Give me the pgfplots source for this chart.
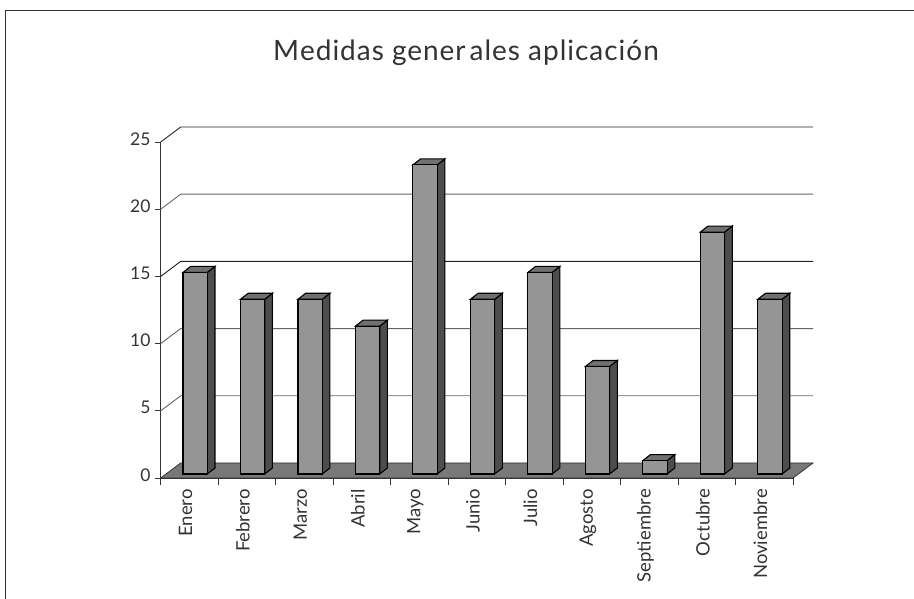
\documentclass[border=0pt]{standalone}
\usepackage{fontspec}
\setmainfont{Lato}
\newfontfamily\titlefont[LetterSpace=3.5]{Lato}
\usepackage{pgfplots}
\pgfplotsset{compat=1.18}
\definecolor{barfront}{HTML}{959595}
\definecolor{barside}{HTML}{4D4D4D}
\definecolor{bartop}{HTML}{707070}
\definecolor{floorcol}{HTML}{787878}
\definecolor{inkcol}{HTML}{333333}
\definecolor{wallgray}{HTML}{666666}
\definecolor{walldark}{HTML}{222222}
% one box: category index, value
\newcommand\drawbar[2]{%
  \pgfmathsetmacro\xl{#1-0.112}%
  \pgfmathsetmacro\xr{#1+0.31}%
  \pgfmathsetmacro\xb{#1+0.444}%
  \pgfmathsetmacro\xc{#1+0.022}%
  \pgfmathsetmacro\yt{#2+0.298}%
  \pgfmathsetmacro\yu{#2+0.744}%
  \edef\temp{%
    \noexpand\addplot[fill=barside,draw=black,line width=1.1pt] coordinates {(\xr,0.298) (\xb,0.744) (\xb,\yu) (\xr,\yt)} --cycle;
    \noexpand\addplot[fill=bartop,draw=black,line width=1.1pt] coordinates {(\xl,\yt) (\xc,\yu) (\xb,\yu) (\xr,\yt)} --cycle;
    \noexpand\addplot[fill=barfront,draw=black,line width=1.1pt] coordinates {(\xl,0.298) (\xr,0.298) (\xr,\yt) (\xl,\yt)} --cycle;
  }\temp
}
\newcommand\wallline[2]{%
  \pgfmathsetmacro\yw{#1+1.116}%
  \edef\temp{\noexpand\addplot[draw=#2,line width=0.9pt] coordinates {(-0.5,#1) (-0.152,\yw) (10.848,\yw)};}\temp
}
\begin{document}
\begin{tikzpicture}
\useasboundingbox (-160.7pt,-121pt) rectangle (753.3pt,478pt);
\draw[draw=inkcol,line width=1.3pt] (-155.2pt,-121pt) -- (-155.2pt,467.7pt) -- (753.3pt,467.7pt);
\begin{axis}[
  scale only axis, width=632.3pt, height=336pt,
  xmin=-0.5, xmax=10.5, ymin=0, ymax=25,
  clip=false,
  axis x line*=bottom, axis y line*=left,
  axis line style={draw=inkcol,line width=0.9pt},
  ytick={0,5,10,15,20,25},
  xtick={0,...,10},
  xticklabels={Enero,Febrero,Marzo,Abril,Mayo,Junio,Julio,Agosto,Septiembre,Octubre,Noviembre},
  minor xtick={-0.5,0.5,...,10.5},
  tick align=outside,
  major tick length=6pt, minor tick length=7pt,
  x tick style={draw=none},
  y tick style={draw=inkcol,line width=0.8pt},
  minor x tick style={draw=inkcol,line width=0.8pt},
  /pgf/number format/assume math mode=true,
  yticklabel style={font=\fontsize{17.5}{20}\selectfont,text=inkcol,inner sep=0pt,xshift=-4pt,yshift=3pt},
  xticklabel style={font=\fontsize{18.5}{20}\selectfont,text=inkcol,rotate=90,anchor=east,inner sep=0pt,xshift=-5pt,yshift=4pt},
  title={M\kern1pt edidas gener\kern4pt ales aplicación},
  every axis title shift=0pt,
  title style={at={(0.4828,1.244)},anchor=base,font=\titlefont\fontsize{28}{31}\selectfont,text=inkcol,inner sep=0pt},
]
\wallline{5}{wallgray}
\wallline{10}{wallgray}
\wallline{15}{walldark}
\wallline{20}{wallgray}
\wallline{25}{walldark}
\addplot[fill=floorcol,draw=inkcol,line width=0.8pt] coordinates {(-0.5,0) (-0.152,1.116) (10.848,1.116) (10.5,0)} --cycle;
\drawbar{0}{15}
\drawbar{1}{13}
\drawbar{2}{13}
\drawbar{3}{11}
\drawbar{4}{23}
\drawbar{5}{13}
\drawbar{6}{15}
\drawbar{7}{8}
\drawbar{8}{1}
\drawbar{9}{18}
\drawbar{10}{13}
\end{axis}
\end{tikzpicture}
\end{document}
